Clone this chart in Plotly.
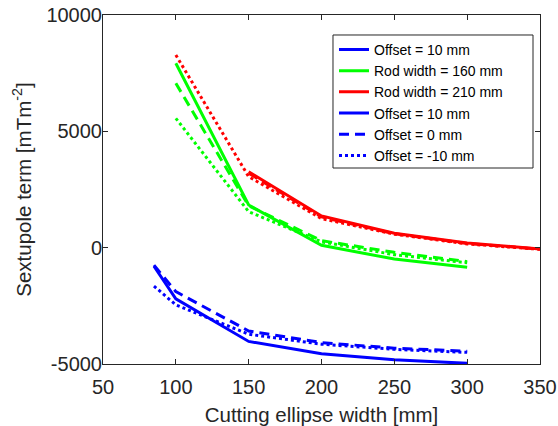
import plotly.graph_objects as go

# ---- data ----
blue_x = [85, 100, 150, 200, 250, 300]
blue_solid = [-800, -2200, -4030, -4560, -4820, -4970]
blue_dashed = [-750, -1890, -3580, -4080, -4320, -4450]
blue_dotted = [-1650, -2460, -3720, -4150, -4370, -4500]

green_x = [100, 150, 200, 250, 300]
green_solid = [7925, 1835, 100, -490, -843]
green_dashed = [7065, 1800, 300, -200, -600]
green_dotted = [5560, 1547, 250, -300, -650]

red_x = [150, 200, 250, 300, 350]
red_solid = [3266, 1363, 618, 200, -56]
red_dashed = [3200, 1320, 600, 180, -60]
red_dotted_x = [100, 150, 200, 250, 300, 350]
red_dotted = [8280, 3050, 1250, 580, 160, -70]

x_ticks = [50, 100, 150, 200, 250, 300, 350]
y_ticks = [-5000, 0, 5000, 10000]
y_tick_labels = ["-5000", "0", "5000", "10000"]

BLUE, GREEN, RED = "#0000FF", "#00FF00", "#FF0000"
LW = 3
DASH = "10px,6px"
DOT = "3px,3px"

fig = go.Figure()

def add(x, y, color, dash, name=None, show=False, rank=1000):
    fig.add_trace(go.Scatter(x=x, y=y, mode="lines",
                             line=dict(color=color, width=LW, dash=dash),
                             name=name or "", showlegend=show, legendrank=rank))

# legend-bearing solid lines
add(blue_x, blue_solid, BLUE, "solid", "Offset = 10 mm", True, 1)
add(green_x, green_solid, GREEN, "solid", "Rod width = 160 mm", True, 2)
add(red_x, red_solid, RED, "solid", "Rod width = 210 mm", True, 3)
# other curves
add(blue_x, blue_dashed, BLUE, DASH)
add(blue_x, blue_dotted, BLUE, DOT)
add(green_x, green_dashed, GREEN, DASH)
add(green_x, green_dotted, GREEN, DOT)
add(red_x, red_dashed, RED, DASH)
add(red_dotted_x, red_dotted, RED, DOT)
# legend-only entries
add([None], [None], BLUE, "solid", "Offset = 10 mm", True, 4)
add([None], [None], BLUE, DASH, "Offset = 0 mm", True, 5)
add([None], [None], BLUE, DOT, "Offset = -10 mm", True, 6)

axis_common = dict(showline=True, linecolor="#262626", linewidth=1, mirror="ticks",
                   ticks="inside", ticklen=5, tickcolor="#262626", showgrid=False,
                   zeroline=False, automargin=False,
                   tickfont=dict(size=20, color="#262626"))

# legend frame (MATLAB-style box)
fig.add_shape(type="rect", xref="paper", yref="paper",
              x0=0.5263, x1=0.984, y0=0.5616, y1=0.9427,
              line=dict(color="#262626", width=1), fillcolor="white", layer="above")

fig.update_layout(
    width=558, height=426,
    margin=dict(l=103, r=18, t=15, b=62),
    paper_bgcolor="white", plot_bgcolor="white",
    font=dict(family="Liberation Sans, Arial, sans-serif", color="#262626"),
    xaxis=dict(range=[50, 350], tickvals=x_ticks, ticklabelstandoff=5,
               title=dict(text="Cutting ellipse width [mm]", font=dict(size=20.5), standoff=12),
               **axis_common),
    yaxis=dict(range=[-5000, 10000], tickvals=y_ticks, ticktext=y_tick_labels,
               ticklabelstandoff=-4,
               title=dict(text="Sextupole term [mTm<sup>-2</sup>]", font=dict(size=20.5), standoff=9),
               **axis_common),
    legend=dict(x=0.5286, y=0.946, xanchor="left", yanchor="top",
                borderwidth=0, bgcolor="rgba(0,0,0,0)",
                font=dict(size=14, color="black"), tracegroupgap=0),
)

fig.write_html("out.html", config={"displayModeBar": False},
               post_script="document.body.style.margin='0';")
